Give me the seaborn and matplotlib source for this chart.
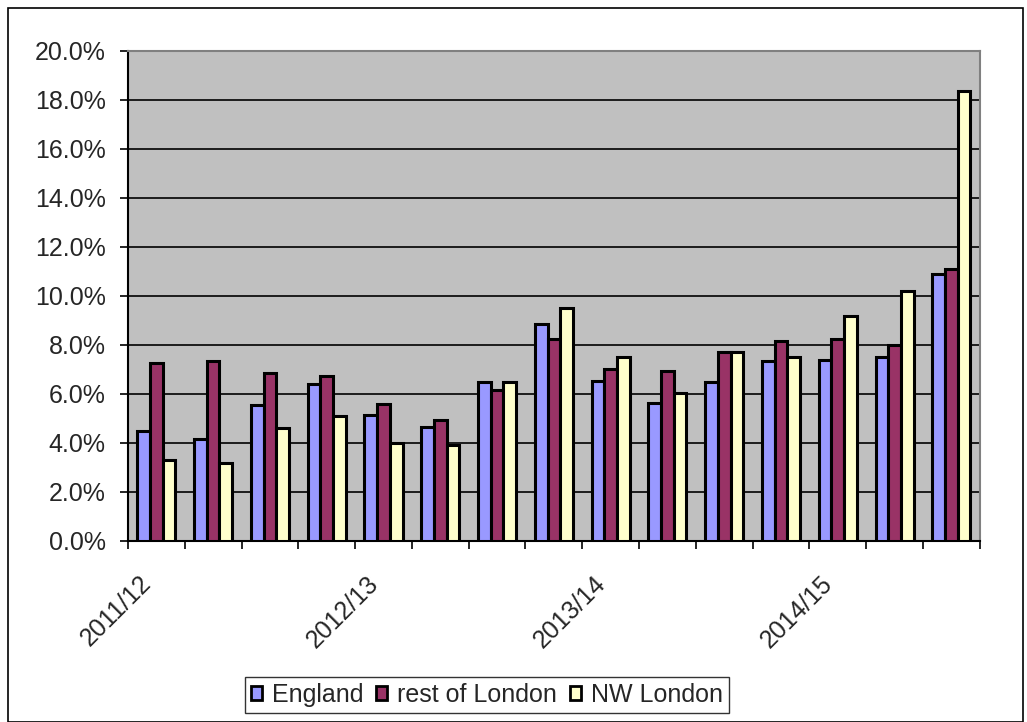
import matplotlib
matplotlib.use("Agg")
import matplotlib.pyplot as plt
import matplotlib.patches as mpatches
import matplotlib.transforms as mtransforms
import seaborn as sns
import pandas as pd
from matplotlib.ticker import FuncFormatter, MultipleLocator

quarters = [
    "2011/12 Q1", "2011/12 Q2", "2011/12 Q3", "2011/12 Q4",
    "2012/13 Q1", "2012/13 Q2", "2012/13 Q3", "2012/13 Q4",
    "2013/14 Q1", "2013/14 Q2", "2013/14 Q3", "2013/14 Q4",
    "2014/15 Q1", "2014/15 Q2", "2014/15 Q3",
]
england = [4.5, 4.15, 5.55, 6.4, 5.15, 4.65, 6.5, 8.85, 6.55, 5.65, 6.5, 7.35, 7.4, 7.5, 10.9]
rest_of_london = [7.25, 7.35, 6.85, 6.75, 5.6, 4.95, 6.15, 8.25, 7.0, 6.95, 7.7, 8.15, 8.25, 8.0, 11.1]
nw_london = [3.3, 3.2, 4.6, 5.1, 4.0, 3.9, 6.5, 9.5, 7.5, 6.05, 7.7, 7.5, 9.2, 10.2, 18.35]
series_names = ["England", "rest of London", "NW London"]
year_labels = ["2011/12", "2012/13", "2013/14", "2014/15"]
colors = ["#9999FF", "#993366", "#FFFFCC"]

rows = []
for name, vals in zip(series_names, [england, rest_of_london, nw_london]):
    for q, v in zip(quarters, vals):
        rows.append({"quarter": q, "series": name, "value": v / 100.0})
df = pd.DataFrame(rows)

sns.set_style("white")
plt.rcParams["font.family"] = ["Liberation Sans", "DejaVu Sans"]

fig = plt.figure(figsize=(10.27, 7.22), dpi=100)
ax = fig.add_axes([0.1246, 0.2507, 0.954 - 0.1246, 0.9294 - 0.2507])

sns.barplot(data=df, x="quarter", y="value", hue="series", order=quarters,
            hue_order=series_names, palette=colors, width=0.67, gap=0,
            edgecolor="black", linewidth=2.2, saturation=1, ax=ax, legend=False,
            zorder=3)

ax.set_facecolor("#C0C0C0")
ax.set_ylim(0, 0.20)
ax.set_xlim(-0.5, len(quarters) - 0.5)
ax.yaxis.set_major_locator(MultipleLocator(0.02))
ax.yaxis.set_major_formatter(FuncFormatter(lambda v, p: f"{v*100:.1f}%"))
ax.grid(axis="y", color="black", linewidth=1.2, zorder=1)
ax.set_axisbelow(True)
ax.set_xlabel("")
ax.set_ylabel("")

# labels at year starts, tick marks between categories
ax.set_xticks([0, 4, 8, 12])
ax.set_xticklabels(year_labels, rotation=45, ha="right", va="center",
                   rotation_mode="anchor", fontsize=18)
ax.tick_params(axis="x", which="major", length=0, pad=28)
offset = mtransforms.ScaledTranslation(-9 / 100, 0, fig.dpi_scale_trans)
for lbl in ax.get_xticklabels():
    lbl.set_transform(lbl.get_transform() + offset)
ax.set_xticks([i - 0.5 for i in range(len(quarters) + 1)], minor=True)
ax.tick_params(axis="x", which="minor", direction="out", length=6, width=1.2,
               color="black", bottom=True)
ax.tick_params(axis="y", direction="out", length=6, width=1.2, color="black",
               left=True, labelsize=18, pad=10)

for s in ["left", "bottom"]:
    ax.spines[s].set_color("black")
    ax.spines[s].set_linewidth(1.5)
for s in ["top", "right"]:
    ax.spines[s].set_color("#808080")
    ax.spines[s].set_linewidth(1.5)
    ax.spines[s].set_visible(True)

handles = [mpatches.Patch(facecolor=c, edgecolor="black", linewidth=2.0) for c in colors]
leg = fig.legend(handles, series_names, loc="center", bbox_to_anchor=(487 / 1027, 1 - 695 / 722),
                 ncol=3, frameon=True, fancybox=False, edgecolor="black", fontsize=18,
                 handlelength=0.45, handleheight=0.45, handletextpad=0.4, columnspacing=0.5,
                 borderpad=0.25, borderaxespad=0)
leg.get_frame().set_linewidth(1.0)

# outer chart border
fig.patches.append(mpatches.Rectangle((8 / 1027, 0), 1 - 8 / 1027 - 4 / 1027, 1 - 8 / 722,
                                      transform=fig.transFigure, fill=False,
                                      edgecolor="black", linewidth=1.2))

fig.savefig("out.png", dpi=100)
